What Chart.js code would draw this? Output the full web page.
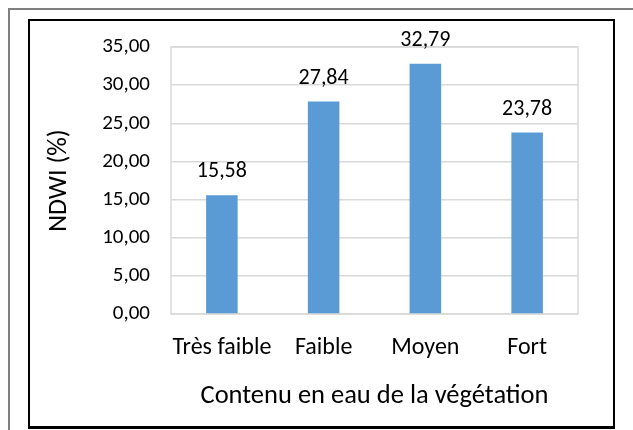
<!DOCTYPE html>
<html>
<head>
<meta charset="utf-8">
<script src="https://cdn.jsdelivr.net/npm/chart.js@4.4.1/dist/chart.umd.min.js"></script>
<style>
  body { margin: 0; background: #fff; width: 633px; height: 430px; overflow: hidden; position: relative; }
  #outer { position: absolute; left: 8px; top: 8px; width: 700px; height: 500px; border-top: 2px solid #7f7f7f; border-left: 2px solid #7f7f7f; }
  #frame { position: absolute; left: 28px; top: 19px; width: 583px; height: 405px; border: 2px solid #000; border-bottom-width: 3px; }
  #chart { position: absolute; left: 0; top: 0; }
</style>
</head>
<body>
<div id="outer"></div>
<div id="frame"><canvas id="chart" width="583" height="405"></canvas></div>
<script>
const categories = ["Très faible", "Faible", "Moyen", "Fort"];
const ndwiValues = [15.58, 27.84, 32.79, 23.78];
const yTicks = [0, 5, 10, 15, 20, 25, 30, 35];

const FONT = "Carlito, Lato, 'Liberation Sans', sans-serif";

function frNum(v) {
    return v.toFixed(2).replace('.', ',');
}

// ===== PLUGINS =====

// labels above bars
const barLabels = {
    id: 'barLabels',
    afterDatasetsDraw(chart) {
        const ctx = chart.ctx;
        const meta = chart.getDatasetMeta(0);
        ctx.save();
        ctx.font = "22px " + FONT;
        ctx.fillStyle = "#000";
        ctx.textAlign = "center";
        ctx.textBaseline = "alphabetic";
        meta.data.forEach((bar, i) => {
            ctx.fillText(frNum(ndwiValues[i]), bar.x, bar.y - 18);
        });
        ctx.restore();
    }
};

// grey box round the plot area
const plotBorder = {
    id: 'plotBorder',
    beforeDatasetsDraw(chart) {
        const a = chart.chartArea;
        const ctx = chart.ctx;
        ctx.save();
        ctx.strokeStyle = "#d9d9d9";
        ctx.lineWidth = 1.5;
        ctx.strokeRect(a.left, a.top, a.right - a.left, a.bottom - a.top);
        ctx.restore();
    }
};

new Chart(document.getElementById("chart"), {
    type: "bar",
    data: {
        labels: categories,
        datasets: [{
            data: ndwiValues,
            backgroundColor: "#5b9bd5",
            categoryPercentage: 1,
            barPercentage: 0.31
        }]
    },
    plugins: [plotBorder, barLabels],
    options: {
        responsive: false,
        animation: false,
        events: [],
        layout: { padding: { left: 0, top: 26, right: 35, bottom: 14 } },
        plugins: { legend: { display: false }, tooltip: { enabled: false } },
        scales: {
            x: {
                grid: { display: false, drawTicks: false },
                border: { display: false },
                ticks: { color: "#000", font: { family: FONT, size: 24 }, padding: 20,
                         autoSkip: false, maxRotation: 0, minRotation: 0 },
                title: { display: true, text: "Contenu en eau de la végétation", color: "#000",
                         font: { family: FONT, size: 26.5 }, padding: 0 },
                afterFit(scale) { scale.height = 98; }
            },
            y: {
                min: 0,
                max: 35,
                afterBuildTicks(scale) { scale.ticks = yTicks.map(v => ({ value: v })); },
                // tick marks kept invisible, only used to push the labels off the plot
                grid: { color: "#d9d9d9", lineWidth: 1.5, drawTicks: true, tickLength: 21,
                        tickColor: "rgba(0,0,0,0)" },
                border: { display: false },
                ticks: { color: "#000", font: { family: FONT, size: 21 }, padding: 0,
                         callback: v => frNum(v) },
                title: { display: true, text: "NDWI (%)", color: "#000",
                         font: { family: FONT, size: 26 }, padding: { top: 14, bottom: 0 } },
                afterFit(scale) { scale.width = 141; }
            }
        }
    }
});
</script>
</body>
</html>
